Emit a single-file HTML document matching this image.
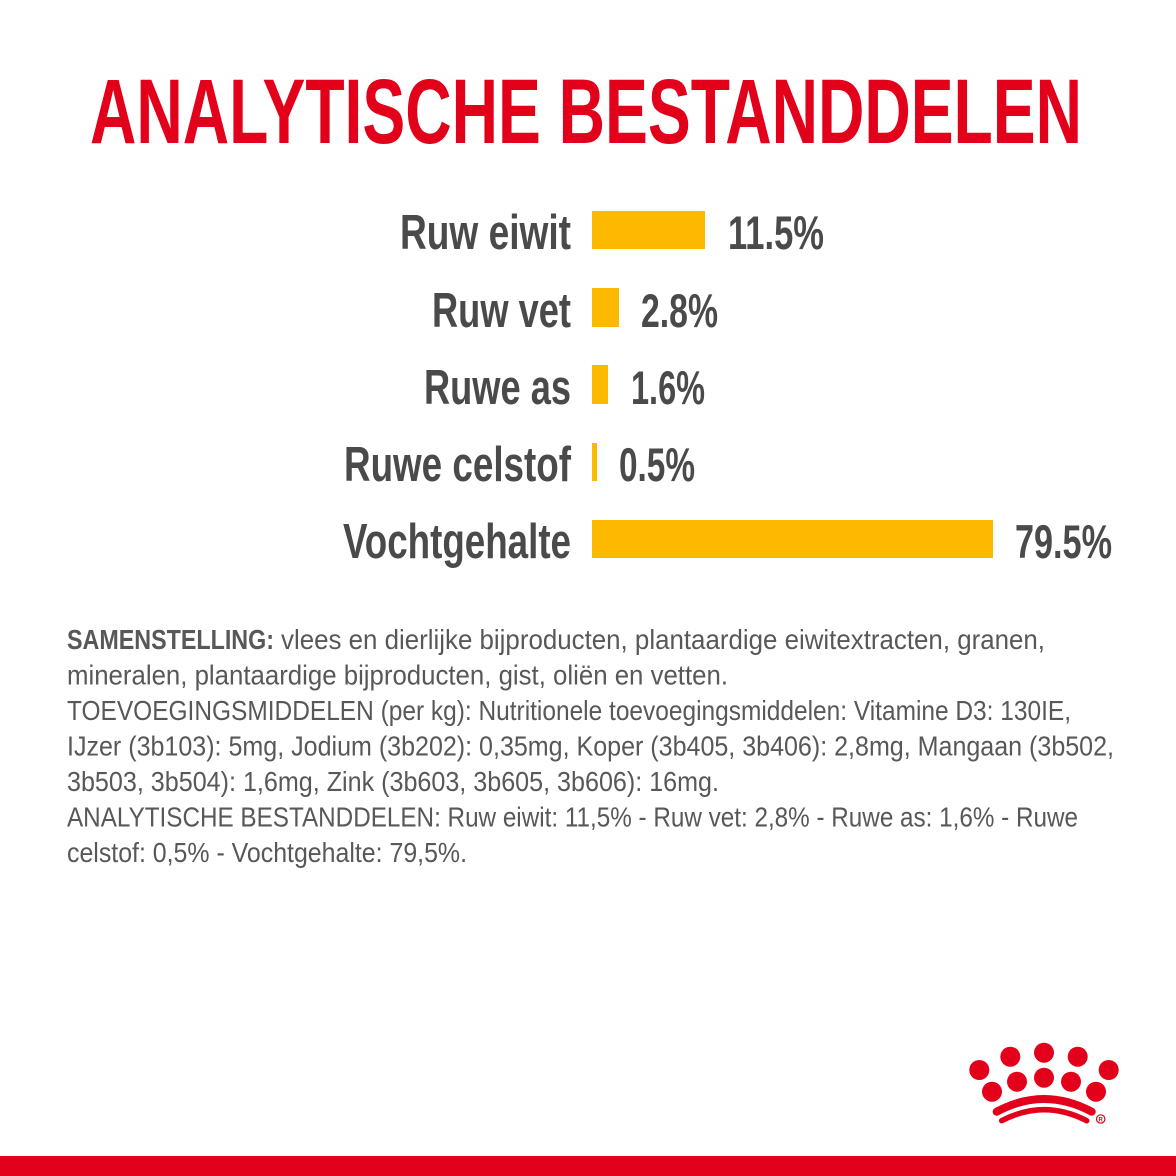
<!DOCTYPE html>
<html>
<head>
<meta charset="utf-8">
<style>
  html, body { margin: 0; padding: 0; background: #ffffff; }
  body { width: 1176px; height: 1176px; overflow: hidden; }
  svg { display: block; }
  .title { font-family: "Liberation Sans", sans-serif; font-weight: bold; fill: #E2001A; }
  .lab { font-family: "Liberation Sans", sans-serif; font-weight: bold; fill: #4a4a4a; }
  .val { font-family: "Liberation Sans", sans-serif; font-weight: bold; fill: #4a4a4a; }
  .p { font-family: "Liberation Sans", sans-serif; fill: #58585a; font-size: 28px; }
  .pb { font-family: "Liberation Sans", sans-serif; font-weight: bold; fill: #58585a; font-size: 28px; }
</style>
</head>
<body>
<svg width="1176" height="1176" viewBox="0 0 1176 1176" xmlns="http://www.w3.org/2000/svg">
  <rect x="0" y="0" width="1176" height="1176" fill="#ffffff"/>

  <!-- Title -->
  <text class="title" x="90" y="143" font-size="92" textLength="992" lengthAdjust="spacingAndGlyphs">ANALYTISCHE BESTANDDELEN</text>

  <!-- Bars -->
  <rect x="592" y="211" width="113" height="38" fill="#FCB900"/>
  <rect x="592" y="288" width="27" height="39" fill="#FCB900"/>
  <rect x="592" y="365" width="16" height="39" fill="#FCB900"/>
  <rect x="592" y="443" width="5" height="38" fill="#FCB900"/>
  <rect x="592" y="520" width="401" height="38" fill="#FCB900"/>

  <!-- Labels -->
  <text class="lab" x="400" y="249" font-size="49" textLength="171" lengthAdjust="spacingAndGlyphs">Ruw eiwit</text>
  <text class="lab" x="432" y="327" font-size="49" textLength="139" lengthAdjust="spacingAndGlyphs">Ruw vet</text>
  <text class="lab" x="424" y="404" font-size="49" textLength="147" lengthAdjust="spacingAndGlyphs">Ruwe as</text>
  <text class="lab" x="344" y="481" font-size="49" textLength="227" lengthAdjust="spacingAndGlyphs">Ruwe celstof</text>
  <text class="lab" x="343" y="558" font-size="49" textLength="228" lengthAdjust="spacingAndGlyphs">Vochtgehalte</text>

  <!-- Values -->
  <text class="val" x="728" y="249" font-size="47" textLength="96" lengthAdjust="spacingAndGlyphs">11.5%</text>
  <text class="val" x="641" y="327" font-size="47" textLength="77" lengthAdjust="spacingAndGlyphs">2.8%</text>
  <text class="val" x="631" y="404" font-size="47" textLength="74" lengthAdjust="spacingAndGlyphs">1.6%</text>
  <text class="val" x="619" y="481" font-size="47" textLength="76" lengthAdjust="spacingAndGlyphs">0.5%</text>
  <text class="val" x="1015" y="558" font-size="47" textLength="97" lengthAdjust="spacingAndGlyphs">79.5%</text>

  <!-- Paragraph -->
  <text class="pb" x="67" y="649" textLength="207" lengthAdjust="spacingAndGlyphs">SAMENSTELLING:</text>
  <text class="p" x="281" y="649" textLength="764" lengthAdjust="spacingAndGlyphs">vlees en dierlijke bijproducten, plantaardige eiwitextracten, granen,</text>
  <text class="p" x="67" y="684.5" textLength="661" lengthAdjust="spacingAndGlyphs">mineralen, plantaardige bijproducten, gist, oliën en vetten.</text>
  <text class="p" x="67" y="720" textLength="1004" lengthAdjust="spacingAndGlyphs">TOEVOEGINGSMIDDELEN (per kg): Nutritionele toevoegingsmiddelen: Vitamine D3: 130IE,</text>
  <text class="p" x="67" y="755.5" textLength="1047" lengthAdjust="spacingAndGlyphs">IJzer (3b103): 5mg, Jodium (3b202): 0,35mg, Koper (3b405, 3b406): 2,8mg, Mangaan (3b502,</text>
  <text class="p" x="67" y="791" textLength="652" lengthAdjust="spacingAndGlyphs">3b503, 3b504): 1,6mg, Zink (3b603, 3b605, 3b606): 16mg.</text>
  <text class="p" x="67" y="826.5" textLength="1011" lengthAdjust="spacingAndGlyphs">ANALYTISCHE BESTANDDELEN: Ruw eiwit: 11,5% - Ruw vet: 2,8% - Ruwe as: 1,6% - Ruwe</text>
  <text class="p" x="67" y="862" textLength="400" lengthAdjust="spacingAndGlyphs">celstof: 0,5% - Vochtgehalte: 79,5%.</text>

  <!-- Crown logo -->
  <g fill="#E2001A">
    <circle cx="979.3" cy="1070" r="10"/>
    <circle cx="1010.3" cy="1056.7" r="10"/>
    <circle cx="1044" cy="1052.7" r="10"/>
    <circle cx="1077.7" cy="1056.7" r="10"/>
    <circle cx="1108.7" cy="1070" r="10"/>
    <circle cx="992" cy="1091.7" r="10"/>
    <circle cx="1017" cy="1081.7" r="10"/>
    <circle cx="1044" cy="1077.7" r="10"/>
    <circle cx="1071" cy="1081.7" r="10"/>
    <circle cx="1096" cy="1091.7" r="10"/>
  </g>
  <path d="M996.7 1111.7 Q1044 1086.3 1091.7 1111.7" stroke="#E2001A" stroke-width="8" fill="none" stroke-linecap="round"/>
  <path d="M1001.7 1120.7 Q1044 1098.7 1086.7 1120.7" stroke="#E2001A" stroke-width="5.5" fill="none" stroke-linecap="round"/>
  <circle cx="1100.7" cy="1119" r="4.2" fill="none" stroke="#E2001A" stroke-width="1.2"/>
  <text x="1100.7" y="1121.5" font-family="Liberation Sans, sans-serif" font-size="6" font-weight="bold" fill="#E2001A" text-anchor="middle">R</text>

  <!-- Bottom red band -->
  <rect x="0" y="1156" width="1176" height="20" fill="#E2001A"/>
</svg>
</body>
</html>
